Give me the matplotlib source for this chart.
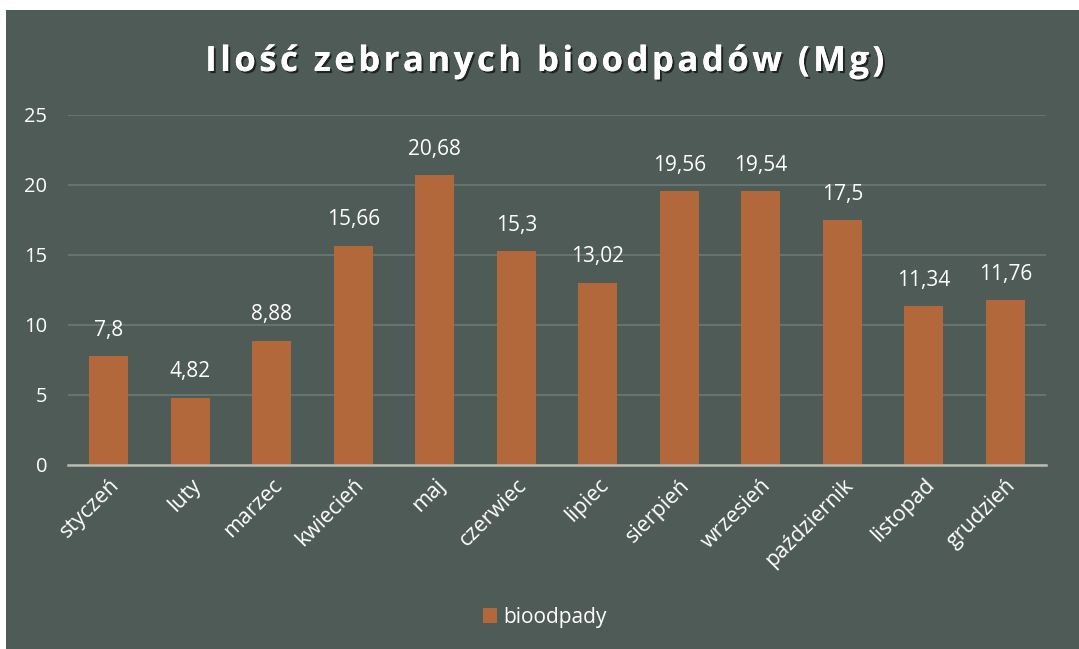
import matplotlib.pyplot as plt
import matplotlib.patheffects as pe
from matplotlib.patches import Rectangle

# Data
months = ["styczeń", "luty", "marzec", "kwiecień", "maj", "czerwiec",
          "lipiec", "sierpień", "wrzesień", "październik", "listopad", "grudzień"]
values = [7.8, 4.82, 8.88, 15.66, 20.68, 15.3, 13.02, 19.56, 19.54, 17.5, 11.34, 11.76]
labels = ["7,8", "4,82", "8,88", "15,66", "20,68", "15,3",
          "13,02", "19,56", "19,54", "17,5", "11,34", "11,76"]
series_name = "bioodpady"
yticks = [0, 5, 10, 15, 20, 25]
title = "Ilość zebranych bioodpadów (Mg)"

BG = "#4f5b57"
BAR = "#b2683a"
GRID = "#6c7874"
FONT = "Open Sans"

fig = plt.figure(figsize=(10.79, 6.49), dpi=100, facecolor=BG)

# White scan border on top and left
fig.patches.append(Rectangle((0, 1 - 10 / 649), 1, 10 / 649,
                             transform=fig.transFigure, facecolor="white",
                             edgecolor="none", zorder=-1))
fig.patches.append(Rectangle((0, 0), 6 / 1079, 1,
                             transform=fig.transFigure, facecolor="white",
                             edgecolor="none", zorder=-1))

ax = fig.add_axes([68 / 1079, 1 - 465 / 649, 978 / 1079, 350 / 649])
ax.set_facecolor("none")

x = range(len(months))
bars = ax.bar(x, values, width=0.48, color=BAR, zorder=3, label=series_name)

ax.set_xlim(-0.5, len(months) - 0.5)
ax.set_ylim(0, 25)
ax.set_yticks(yticks)
ax.set_yticklabels([str(t) for t in yticks], fontsize=14.5, color="white",
                   family=FONT)
ax.yaxis.grid(True, color=GRID, linewidth=1.2, zorder=0)
ax.tick_params(axis="y", length=0, pad=15)
ax.tick_params(axis="x", length=0, pad=7)

ax.set_xticks(list(x))
ax.set_xticklabels(months, rotation=45, ha="right", rotation_mode="anchor",
                   fontsize=15.5, color="white", family=FONT)

for side in ["top", "right", "left"]:
    ax.spines[side].set_visible(False)
ax.spines["bottom"].set_color("#b8bcb2")
ax.spines["bottom"].set_linewidth(1.8)
ax.spines["bottom"].set_zorder(4)

# Value labels
for b, lab in zip(bars, labels):
    ax.annotate(lab, (b.get_x() + b.get_width() / 2, b.get_height()),
                xytext=(0, 11), textcoords="offset points",
                ha="center", va="bottom", fontsize=15, color="white",
                family=FONT)

# Title, letter-spaced with hair spaces
spaced = "\u200a".join(title)
fig.text(0.505, 1 - 62 / 649, spaced,
         ha="center", va="center", fontsize=25, fontweight="bold",
         color="white", family=[FONT, "DejaVu Sans"],
         path_effects=[pe.withSimplePatchShadow(offset=(1.5, -1.5),
                                                shadow_rgbFace="black",
                                                alpha=0.6),
                       pe.Normal()])

# Legend
leg = fig.legend(handles=[bars], labels=[series_name], loc="center",
                 bbox_to_anchor=(0.505, 1 - 617 / 649), frameon=False,
                 handlelength=0.7, handleheight=0.7, handletextpad=0.3,
                 prop={"family": FONT, "size": 15})
for t in leg.get_texts():
    t.set_color("white")

fig.savefig("out.png", dpi=100, facecolor=fig.get_facecolor())
